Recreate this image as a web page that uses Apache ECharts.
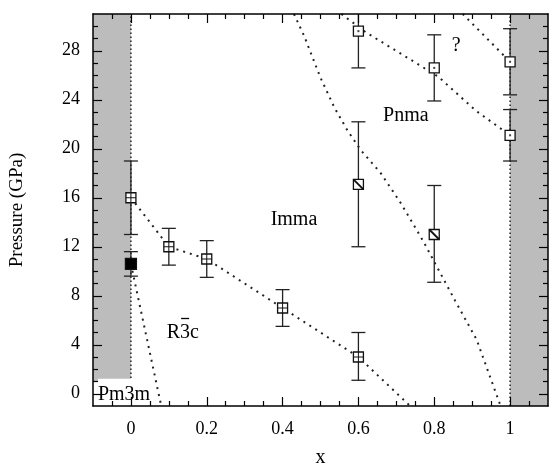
<!DOCTYPE html>
<html><head><meta charset="utf-8">
<script src="https://cdn.jsdelivr.net/npm/echarts@6/dist/echarts.min.js"></script>
<style>html,body{margin:0;padding:0;background:#fff}#c{width:549px;height:473px}</style>
</head><body><div id="c"></div>
<script>
// ---- axis ticks / labels ----
const xMajor = [0, 0.2, 0.4, 0.6, 0.8, 1];
const xTickLabels = ['0', '0.2', '0.4', '0.6', '0.8', '1'];
const xMinor = [-0.05, 0.05, 0.1, 0.15, 0.25, 0.3, 0.35, 0.45, 0.5, 0.55, 0.65, 0.7, 0.75, 0.85, 0.9, 0.95, 1.05];
const yMajor = [0, 4, 8, 12, 16, 20, 24, 28];
const yTickLabels = ['0', '4', '8', '12', '16', '20', '24', '28'];
const yMinor = [1, 2, 3, 5, 6, 7, 9, 10, 11, 13, 14, 15, 17, 18, 19, 21, 22, 23, 25, 26, 27, 29, 30];

// ---- data: squares with plus ----
const xPlus = [0, 0.1, 0.2, 0.4, 0.6];
const pPlus = [16, 12, 11, 7, 3];
const loPlus = [13, 10.5, 9.5, 5.5, 1.1];
const hiPlus = [19, 13.5, 12.5, 8.5, 5];
// filled square
const xFill = [0];
const pFill = [10.6];
const loFill = [9.6];
const hiFill = [11.6];
// squares with dot
const xDot = [0.6, 0.8, 1, 1];
const pDot = [29.6, 26.6, 27.1, 21.1];
const loDot = [26.6, 23.9, 24.4, 19];
const hiDot = [32.6, 29.3, 29.8, 23.2];
// squares with diagonal
const xDiag = [0.6, 0.8];
const pDiag = [17.1, 13];
const loDiag = [12, 9.1];
const hiDiag = [22.2, 17];

// ---- phase boundaries (dotted) ----
const bx1 = [0, 0.1, 0.2, 0.4, 0.6, 0.75];
const bp1 = [16, 12, 11, 7, 3, -1.4];
const bx2 = [0, 0.08];
const bp2 = [10.6, -1];
const bx3 = [0.43, 0.457, 0.5, 0.536, 0.571, 0.606, 0.659, 0.711, 0.772, 0.803, 0.855, 0.912, 0.975];
const bp3 = [31, 29.2, 25.8, 23.4, 21.5, 19.9, 18.0, 15.6, 12.4, 10.6, 7.6, 4.4, -1];
const bx4 = [0.555, 0.62, 0.81, 0.91, 1.0];
const bp4 = [31, 29.5, 25.9, 23.1, 21.1];
const bx5 = [0.875, 1];
const bp5 = [31, 27.1];
const vx = [0, 1];

// ---- shaded regions [x0, p0, x1, p1] ----
const bandX0 = [-0.1, 1];
const bandX1 = [0, 1.1];
const bandP0 = [1.0, -1];
const bandP1 = [31, 31];

// ---- phase labels (the third char of 'R3c' carries an overbar) ----
const annText = ['Imma', 'Pnma', '?', 'R3c'];
const annBar = [false, false, false, true];
const annX = [0.43, 0.725, 0.858, 0.137];
const annP = [14.2, 22.7, 28.4, 5.0];

const FONT = '"Liberation Serif", "DejaVu Serif", serif';
const INK = '#000';
const LBL_FONT = '20px ' + FONT;

const mctx = document.createElement('canvas').getContext('2d');
function tw(t, f) { mctx.font = f; return mctx.measureText(t).width; }

function zip(a, b) { return a.map((v, i) => [v, b[i]]); }

function markerSeries(name, xs, ps, los, his, kind) {
  return {
    type: 'custom', name: name, z: 5,
    data: xs.map((x, i) => [x, ps[i], los[i], his[i]]),
    renderItem: function (params, api) {
      const cs = params.coordSys;
      const c = api.coord([api.value(0), api.value(1)]);
      const lo = api.coord([api.value(0), api.value(2)]);
      const hi = api.coord([api.value(0), api.value(3)]);
      const topY = Math.max(hi[1], cs.y);
      const cap = 7, h = kind === 'fill' ? 5.5 : 5;
      const ls = { stroke: '#222', lineWidth: 1.3 };
      const ch = [];
      ch.push({ type: 'line', shape: { x1: c[0], y1: lo[1], x2: c[0], y2: topY }, style: ls });
      ch.push({ type: 'line', shape: { x1: c[0] - cap, y1: lo[1], x2: c[0] + cap, y2: lo[1] }, style: ls });
      if (hi[1] >= cs.y) ch.push({ type: 'line', shape: { x1: c[0] - cap, y1: hi[1], x2: c[0] + cap, y2: hi[1] }, style: ls });
      ch.push({ type: 'rect', shape: { x: c[0] - h, y: c[1] - h, width: 2 * h, height: 2 * h },
        style: { fill: kind === 'fill' ? '#000' : '#fff', stroke: '#111', lineWidth: 1.3 } });
      if (kind === 'plus') {
        ch.push({ type: 'line', shape: { x1: c[0] - h, y1: c[1], x2: c[0] + h, y2: c[1] }, style: { stroke: '#111', lineWidth: 1 } });
        ch.push({ type: 'line', shape: { x1: c[0], y1: c[1] - h, x2: c[0], y2: c[1] + h }, style: { stroke: '#111', lineWidth: 1 } });
      } else if (kind === 'dot') {
        ch.push({ type: 'rect', shape: { x: c[0] - 1, y: c[1] - 1, width: 2, height: 2 }, style: { fill: '#444' } });
      } else if (kind === 'diag') {
        ch.push({ type: 'line', shape: { x1: c[0] - h, y1: c[1] - h, x2: c[0] + h, y2: c[1] + h }, style: { stroke: '#111', lineWidth: 1.8 } });
      }
      return { type: 'group', children: ch };
    }
  };
}

function dotted(name, xs, ps, dash, w) {
  return {
    type: 'line', name: name, data: zip(xs, ps), symbol: 'none', z: 4,
    lineStyle: { color: '#222', width: w || 2, type: dash || [2, 5] }, silent: true, animation: false
  };
}

const series = [
  {
    type: 'custom', name: 'bands', z: 1,
    data: bandX0.map((x, i) => [x, bandP0[i], bandX1[i], bandP1[i]]),
    renderItem: function (params, api) {
      const a = api.coord([api.value(0), api.value(1)]);
      const b = api.coord([api.value(2), api.value(3)]);
      return { type: 'rect', shape: { x: Math.min(a[0], b[0]), y: Math.min(a[1], b[1]), width: Math.abs(b[0] - a[0]), height: Math.abs(b[1] - a[1]) }, style: { fill: '#bcbcbc' } };
    }
  },
  dotted('v0', [vx[0], vx[0]], [-1, 31], [1.5, 2.5], 1.5),
  dotted('v1', [vx[1], vx[1]], [-1, 31], [1.5, 2.5], 1.5),
  dotted('b1', bx1, bp1),
  dotted('b2', bx2, bp2),
  dotted('b3', bx3, bp3),
  dotted('b4', bx4, bp4),
  dotted('b5', bx5, bp5),
  markerSeries('plus', xPlus, pPlus, loPlus, hiPlus, 'plus'),
  markerSeries('fill', xFill, pFill, loFill, hiFill, 'fill'),
  markerSeries('dot', xDot, pDot, loDot, hiDot, 'dot'),
  markerSeries('diag', xDiag, pDiag, loDiag, hiDiag, 'diag'),
  {
    type: 'custom', name: 'labels', z: 6,
    data: annText.map((t, i) => [annX[i], annP[i], i]),
    renderItem: function (params, api) {
      const c = api.coord([api.value(0), api.value(1)]);
      const i = api.value(2);
      const t = annText[i];
      const ch = [{ type: 'text', style: { text: t, x: c[0], y: c[1], align: 'center', verticalAlign: 'middle', font: LBL_FONT, fill: INK } }];
      if (annBar[i]) {
        const w = tw(t, LBL_FONT);
        const l = c[0] - w / 2 + tw(t.slice(0, 1), LBL_FONT);
        const r = c[0] - w / 2 + tw(t.slice(0, 2), LBL_FONT);
        ch.push({ type: 'line', shape: { x1: l + 1, y1: c[1] - 14, x2: r - 1, y2: c[1] - 14 }, style: { stroke: INK, lineWidth: 1.3 } });
      }
      return { type: 'group', children: ch };
    }
  },
  {
    type: 'custom', name: 'pm3m', z: 7,
    data: [[-0.087, -0.05]],
    renderItem: function (params, api) {
      const c = api.coord([api.value(0), api.value(1)]);
      return { type: 'text', style: { text: 'Pm3m', x: c[0], y: c[1], align: 'left', verticalAlign: 'middle', font: LBL_FONT, fill: INK, backgroundColor: '#fff', padding: [5, 1, 6, 0] } };
    }
  }
];

function xAx(pos, vals, len, showLine, showLabel) {
  return {
    type: 'value', min: -0.1, max: 1.1, position: pos, z: 10,
    axisLine: { show: showLine, onZero: false, lineStyle: { color: INK, width: 1.5 } },
    axisTick: { show: true, inside: true, length: len, customValues: vals, lineStyle: { color: INK, width: 1.2 } },
    axisLabel: showLabel ? { customValues: vals, formatter: v => xTickLabels[xMajor.findIndex(m => Math.abs(m - v) < 1e-6)] || '', margin: 14, fontFamily: FONT, fontSize: 18, color: INK } : { show: false },
    splitLine: { show: false }, minorTick: { show: false }
  };
}
function yAx(pos, vals, len, showLine, showLabel) {
  return {
    type: 'value', min: -1, max: 31, position: pos, z: 10,
    axisLine: { show: showLine, onZero: false, lineStyle: { color: INK, width: 1.5 } },
    axisTick: { show: true, inside: true, length: len, customValues: vals, lineStyle: { color: INK, width: 1.2 } },
    axisLabel: showLabel ? { customValues: vals, formatter: v => yTickLabels[yMajor.indexOf(Math.round(v))] || '', margin: 13, fontFamily: FONT, fontSize: 18, color: INK } : { show: false },
    splitLine: { show: false }, minorTick: { show: false }
  };
}

const xs = [xAx('bottom', xMajor, 9, true, true), xAx('bottom', xMinor, 5, false, false), xAx('top', xMajor, 9, true, false), xAx('top', xMinor, 5, false, false)];
xs[0].name = 'x'; xs[0].nameLocation = 'middle'; xs[0].nameGap = 42;
xs[0].nameTextStyle = { fontFamily: FONT, fontSize: 20, color: INK };
const ys = [yAx('left', yMajor, 9, true, true), yAx('left', yMinor, 5, false, false), yAx('right', yMajor, 9, true, false), yAx('right', yMinor, 5, false, false)];
ys[0].name = 'Pressure (GPa)'; ys[0].nameLocation = 'middle'; ys[0].nameGap = 66;
ys[0].nameTextStyle = { fontFamily: FONT, fontSize: 19, color: INK };

const chart = echarts.init(document.getElementById('c'), null, { renderer: 'canvas' });
chart.setOption({
  animation: false,
  backgroundColor: '#fff',
  grid: { left: 92, right: 1, top: 14, bottom: 58, containLabel: false },
  xAxis: xs,
  yAxis: ys,
  series: series
});
</script></body></html>
